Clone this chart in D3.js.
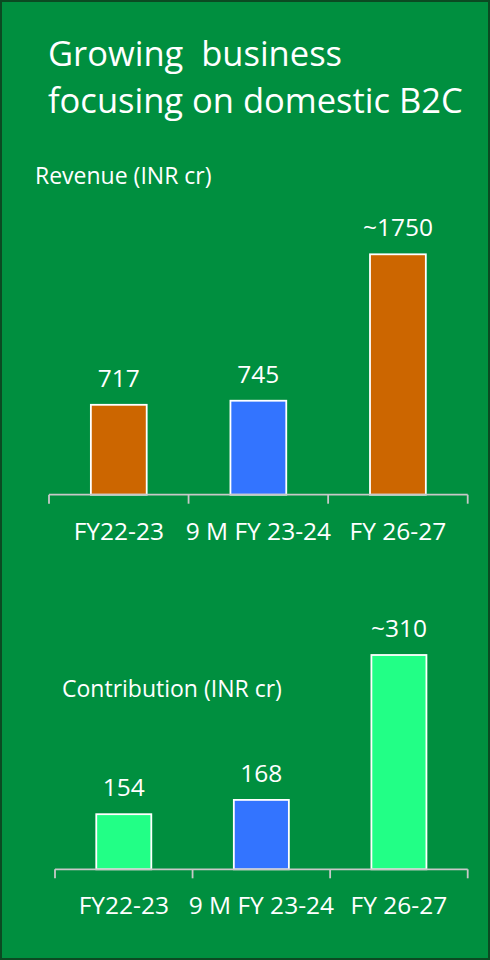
<!DOCTYPE html>
<html><head><meta charset="utf-8">
<script src="https://cdn.jsdelivr.net/npm/d3@7"></script>
<style>html,body{margin:0;padding:0;background:#fff}svg{display:block}</style>
</head><body>
<script>
// ---- data ----
const categories = ["FY22-23", "9 M FY 23-24", "FY 26-27"];
const revenueValues = [717, 745, 1750];
const revenueLabels = ["717", "745", "~1750"];
const contributionValues = [154, 168, 310];
const contributionLabels = ["154", "168", "~310"];
const titleLines = ["Growing  business", "focusing on domestic B2C"];
const revenueTitle = "Revenue (INR cr)";
const contributionTitle = "Contribution (INR cr)";

// ---- styles ----
const W = 490, H = 960;
const BG = "#008f3f", BORDER = "#0b4a22";
const FONT = "'Open Sans', sans-serif";
const revenueColors = ["#cc6600", "#3374ff", "#cc6600"];
const contributionColors = ["#22ff86", "#3374ff", "#22ff86"];

const svg = d3.select("body").append("svg").attr("width", W).attr("height", H);
svg.append("rect").attr("x", 1).attr("y", 1).attr("width", W - 2).attr("height", H - 2)
  .attr("fill", BG).attr("stroke", BORDER).attr("stroke-width", 2);

svg.append("g").selectAll("text").data(titleLines).join("text")
  .attr("x", 48).attr("y", (d, i) => 65.5 + i * 47.5)
  .attr("fill", "#fff").attr("font-family", FONT).attr("font-size", 34.5)
  .attr("xml:space", "preserve").style("white-space", "pre")
  .text(d => d);

function panel(cfg) {
  const x = d3.scaleBand().domain(categories).range([cfg.x0, cfg.x1]).padding(0);
  const y = d3.scaleLinear().domain(cfg.domain).range([cfg.base, cfg.top]);
  const bw = x.bandwidth() * 0.4;
  const g = svg.append("g");
  const data = categories.map((c, i) => ({c, v: cfg.values[i], l: cfg.labels[i], col: cfg.colors[i]}));

  g.append("text").attr("x", cfg.titleX).attr("y", cfg.titleY)
    .attr("fill", "#fff").attr("font-family", FONT).attr("font-size", 23)
    .text(cfg.title);

  g.selectAll("rect.bar").data(data).join("rect").attr("class", "bar")
    .attr("x", d => x(d.c) + (x.bandwidth() - bw) / 2)
    .attr("width", bw)
    .attr("y", d => y(d.v))
    .attr("height", d => cfg.base - y(d.v))
    .attr("fill", d => d.col).attr("stroke", "#fff").attr("stroke-width", 1.8);

  g.selectAll("text.val").data(data).join("text").attr("class", "val")
    .attr("x", d => x(d.c) + x.bandwidth() / 2)
    .attr("y", d => y(d.v) - 18)
    .attr("text-anchor", "middle").attr("fill", "#fff")
    .attr("font-family", FONT).attr("font-size", 24.5)
    .text(d => d.l);

  // axis line + boundary ticks
  const ticks = categories.map(c => x(c)).concat([x(categories[categories.length - 1]) + x.bandwidth()]);
  g.append("line").attr("x1", cfg.x0).attr("x2", cfg.x1).attr("y1", cfg.base).attr("y2", cfg.base)
    .attr("stroke", "#c8c8c8").attr("stroke-width", 1.8);
  g.selectAll("line.tick").data(ticks).join("line").attr("class", "tick")
    .attr("x1", d => d).attr("x2", d => d).attr("y1", cfg.base).attr("y2", cfg.base + 9)
    .attr("stroke", "#c8c8c8").attr("stroke-width", 1.8);

  g.selectAll("text.cat").data(categories).join("text").attr("class", "cat")
    .attr("x", d => x(d) + x.bandwidth() / 2)
    .attr("y", cfg.base + 45)
    .attr("text-anchor", "middle").attr("fill", "#fff")
    .attr("font-family", FONT).attr("font-size", 24.5)
    .text(d => d);
}

panel({
  values: revenueValues, labels: revenueLabels, colors: revenueColors,
  x0: 49, x1: 467.7, base: 494.7, top: 254.3, domain: [100, 1750],
  title: revenueTitle, titleX: 35, titleY: 184
});
panel({
  values: contributionValues, labels: contributionLabels, colors: contributionColors,
  x0: 55, x1: 467.7, base: 869.3, top: 655, domain: [100, 310],
  title: contributionTitle, titleX: 62, titleY: 696.5
});
</script>
</body></html>
